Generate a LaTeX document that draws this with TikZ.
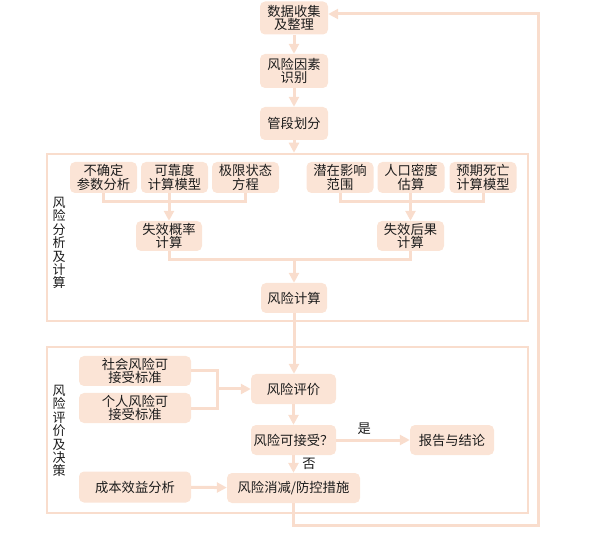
\documentclass[tikz,border=0pt]{standalone}
\usepackage{fontspec}
\setmainfont{Noto Sans CJK SC}
\usetikzlibrary{arrows.meta}
\definecolor{boxfill}{RGB}{251,228,214}
\definecolor{lncol}{RGB}{249,221,205}
\definecolor{txtcol}{RGB}{28,28,28}

\begin{document}
\begin{tikzpicture}[x=1pt, y=-1pt,
  every node/.style={font=\fontsize{13.3}{13.8}\selectfont, text=txtcol},
  blk/.style={fill=boxfill, rounded corners=5pt, minimum width=67pt, minimum height=31pt, inner sep=1pt, align=center},
  wide/.style={blk, minimum width=112pt},
  frm/.style={draw=lncol, line width=2.5pt, inner sep=0pt},
  ln/.style={draw=lncol, line width=3pt},
  arr/.style={ln, -{Triangle[width=10pt,length=10pt]}},
  vlab/.style={align=center, font=\fontsize{13}{13.4}\selectfont},
]
\useasboundingbox (0,0) rectangle (592,537);

% ── frames ──
\node[frm, minimum width=481pt, minimum height=167pt] (fa) at (287.5,237.5) {};
\node[frm, minimum width=481pt, minimum height=166pt] (fb) at (287.5,430) {};
\node[vlab] (la) at (59,243) {风\\险\\分\\析\\及\\计\\算};
\node[vlab] (lb) at (59,431) {风\\险\\评\\价\\及\\决\\策};

% ── top chain ──
\node[blk, minimum width=68pt, minimum height=33pt] (collect) at (294,18)    {数据收集\\及整理};
\node[blk, minimum width=68pt, minimum height=34pt] (ident)   at (294,71)    {风险因素\\识别};
\node[blk, minimum width=68pt, minimum height=33pt] (seg)     at (294,123.5) {管段划分};

\draw[arr] (collect) -- (ident);
\draw[arr] (ident) -- (seg);
\draw[arr] (seg) -- (seg |- fa.north);

% ── (a) risk analysis ──
\node[blk] (unc) at (103.5,177.5) {不确定\\参数分析};
\node[blk] (rel) at (174.5,177.5) {可靠度\\计算模型};
\node[blk] (lim) at (245.5,177.5) {极限状态\\方程};
\node[blk] (pot) at (340,177.5)   {潜在影响\\范围};
\node[blk] (pop) at (411,177.5)   {人口密度\\估算};
\node[blk] (dea) at (483,177.5)   {预期死亡\\计算模型};

\node[blk, minimum width=66pt, minimum height=30pt] (pf) at (169,236)   {失效概率\\计算};
\node[blk, minimum width=67pt, minimum height=30pt] (cf) at (410.5,236) {失效后果\\计算};
\node[blk, minimum width=66pt, minimum height=30pt] (rc) at (294,298)   {风险计算};

\coordinate (jl) at (169,202);
\coordinate (jr) at (410.5,202);
\coordinate (jm) at (294,260);

\draw[ln] (unc.south) |- (lim.south |- jl) -- (lim.south);
\draw[arr] (pf |- rel.south) -- (pf.north);
\draw[ln] (pot.south) |- (dea.south |- jr) -- (dea.south);
\draw[arr] (cf |- pop.south) -- (cf.north);

\draw[ln] (pf.south) |- (jm) -| (cf.south);
\draw[arr] (jm) -- (rc.north);

% ── (b) evaluation and decision ──
\node[wide, minimum height=30pt] (soc)  at (135,371)   {社会风险可\\接受标准};
\node[wide, minimum height=30pt] (ind)  at (135,408)   {个人风险可\\接受标准};
\node[wide] (cost) at (135,487) {成本效益分析};

\node[blk, minimum width=85pt, minimum height=30pt]  (eval) at (293.5,389) {风险评价};
\node[blk, minimum width=85pt, minimum height=30pt]  (acc)  at (293.5,440) {风险可接受？};
\node[blk, minimum width=84pt, minimum height=30pt]  (rep)  at (452,440)   {报告与结论};
\node[blk, minimum width=133pt, minimum height=30pt] (mit)  at (293.5,488) {风险消减/防控措施};

\coordinate (jb) at (217,389);
\draw[ln] (soc.east) -| (jb) |- (ind.east);
\draw[arr] (jb) -- (eval.west);

\draw[arr] (rc.south) -- (rc.south |- eval.north);
\draw[arr] (eval) -- (acc);
\draw[arr] (acc) -- node[pos=0.38, above=1pt] (yes) {是} (rep);
\draw[arr] (acc.south) -- node[right=4pt] (no) {否} (acc.south |- mit.north);
\draw[arr] (cost) -- (mit);

% ── feedback loop ──
\coordinate (loopc) at (538,525);
\coordinate (loopt) at (538,14);
\draw[arr] (mit.south) |- (loopc) -- (loopt) -- (loopt -| collect.east);

\end{tikzpicture}
\end{document}
